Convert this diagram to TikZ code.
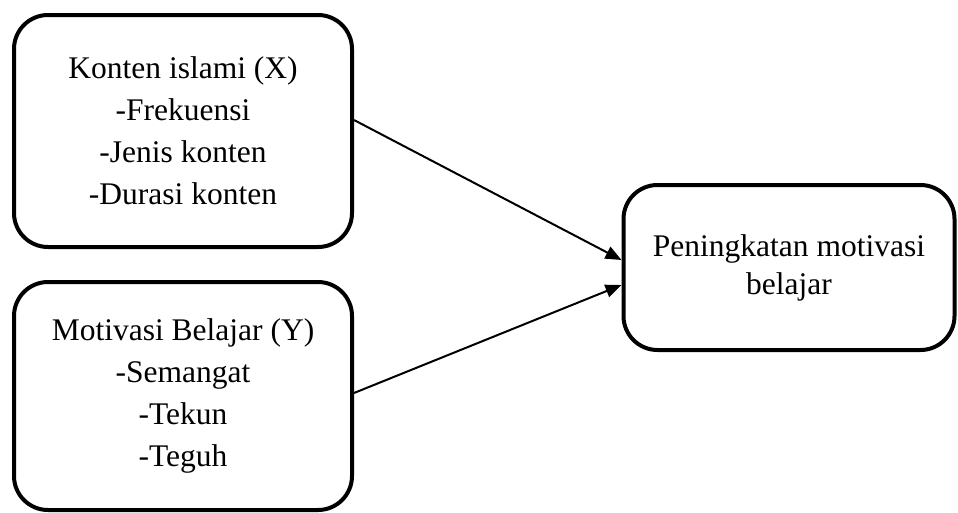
\documentclass[tikz,border=0pt]{standalone}
\usepackage{fontspec}
\setmainfont{Liberation Serif}
\usetikzlibrary{arrows.meta}

\tikzset{
	varbox/.style = {draw, line width = 4pt, rounded corners = 34pt, align = center,
		font = \fontsize{31.5}{42}\selectfont, inner sep = 0pt},
	link/.style = {line width = 2pt, -{Triangle[length = 16pt, width = 13pt]}}
}

\begin{document}
\begin{tikzpicture}[x = 1pt, y = -1pt]
		\useasboundingbox (0,0) rectangle (958,512);
		
		\node [varbox, minimum width = 338pt, minimum height = 232pt] (konten) at (183,131)
			{Konten islami (X)\\-Frekuensi\\-Jenis konten\\-Durasi konten};
		\node [varbox, minimum width = 338pt, minimum height = 228pt] (motivasi) at (183,396)
			{Motivasi Belajar (Y)\\-Semangat\\-Tekun\\-Teguh};
		\node [varbox, minimum width = 331pt, minimum height = 165pt,
			font = \fontsize{31.5}{38}\selectfont] (peningkatan) at (789,267.5)
			{Peningkatan motivasi\\belajar};
		
		\draw [link] ([yshift = 11pt] konten.east) -- ([yshift = 7.5pt] peningkatan.west);
		\draw [link] ([yshift = 3pt] motivasi.east) -- ([yshift = -17.5pt] peningkatan.west);
	\end{tikzpicture}
\end{document}
